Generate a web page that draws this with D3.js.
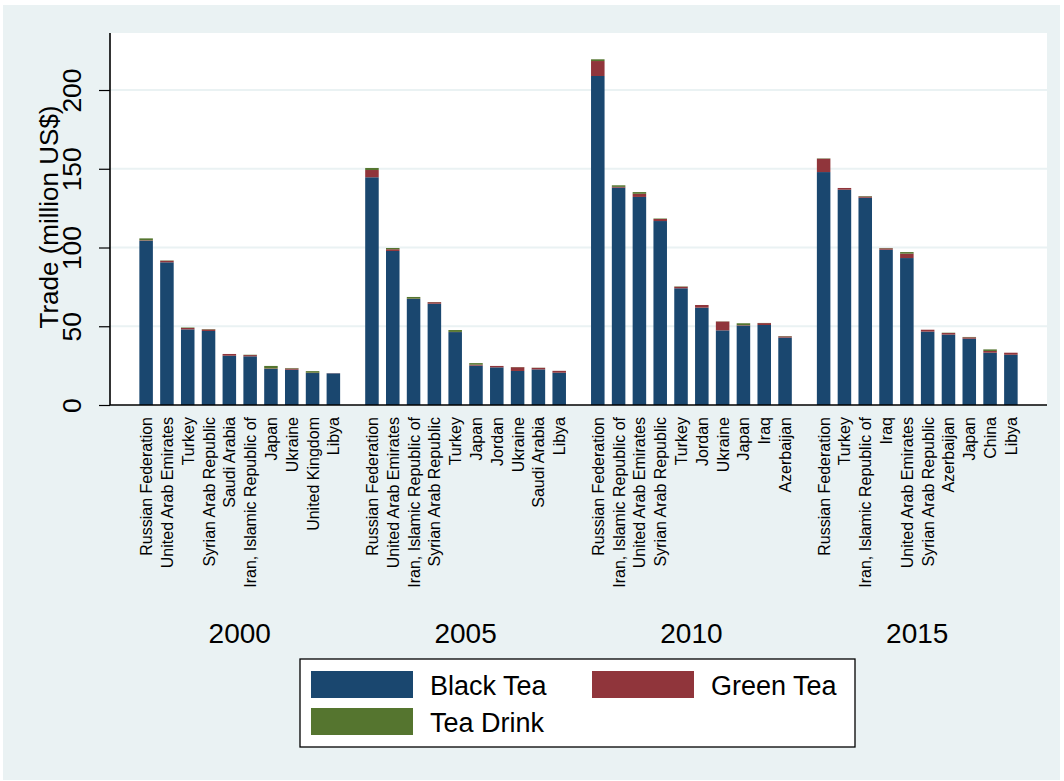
<!DOCTYPE html>
<html>
<head>
<meta charset="utf-8">
<script src="https://cdn.jsdelivr.net/npm/d3@7"></script>
<style>
  html, body { margin: 0; padding: 0; background: #ffffff; }
  svg { display: block; }
  text { font-family: "Liberation Sans", Arial, sans-serif; fill: #000; }
</style>
</head>
<body>
<svg id="chart" width="1064" height="781"></svg>
<script>
// Top tea import markets by year, million US$
const years = ["2000", "2005", "2010", "2015"];

const countries2000 = ["Russian Federation", "United Arab Emirates", "Turkey", "Syrian Arab Republic", "Saudi Arabia", "Iran, Islamic Republic of", "Japan", "Ukraine", "United Kingdom", "Libya"];
const countries2005 = ["Russian Federation", "United Arab Emirates", "Iran, Islamic Republic of", "Syrian Arab Republic", "Turkey", "Japan", "Jordan", "Ukraine", "Saudi Arabia", "Libya"];
const countries2010 = ["Russian Federation", "Iran, Islamic Republic of", "United Arab Emirates", "Syrian Arab Republic", "Turkey", "Jordan", "Ukraine", "Japan", "Iraq", "Azerbaijan"];
const countries2015 = ["Russian Federation", "Turkey", "Iran, Islamic Republic of", "Iraq", "United Arab Emirates", "Syrian Arab Republic", "Azerbaijan", "Japan", "China", "Libya"];

const blackTea2000 = [104.3, 90.6, 48.0, 47.0, 31.3, 30.9, 22.9, 22.4, 20.3, 20.1];
const greenTea2000 = [0.3, 1.0, 0.9, 1.0, 1.1, 0.8, 0.3, 0.8, 0.2, 0.1];
const teaDrink2000 = [1.2, 0.2, 0.3, 0.2, 0.0, 0.2, 1.6, 0.3, 1.0, 0.0];

const blackTea2005 = [144.6, 97.8, 67.3, 64.3, 46.3, 25.0, 23.9, 21.6, 22.6, 20.5];
const greenTea2005 = [4.6, 1.1, 0.2, 1.0, 0.1, 0.6, 0.9, 2.4, 1.0, 1.2];
const teaDrink2005 = [1.3, 0.8, 1.1, 0.1, 1.2, 1.0, 0.0, 0.1, 0.1, 0.0];

const blackTea2010 = [208.9, 138.0, 132.1, 116.8, 74.1, 61.8, 47.4, 50.4, 50.8, 42.8];
const greenTea2010 = [9.5, 0.5, 2.0, 1.3, 1.0, 1.7, 5.6, 0.3, 1.2, 0.8];
const teaDrink2010 = [1.1, 1.0, 1.1, 0.3, 0.2, 0.0, 0.1, 1.2, 0.1, 0.2];

const blackTea2015 = [147.9, 136.7, 131.6, 98.6, 93.3, 46.6, 44.7, 42.1, 33.2, 31.9];
const greenTea2015 = [8.5, 1.1, 0.8, 0.9, 2.8, 1.2, 1.0, 0.9, 1.1, 1.3];
const teaDrink2015 = [0.2, 0.0, 0.3, 0.2, 1.0, 0.0, 0.2, 0.2, 1.0, 0.0];

const seriesNames = ["Black Tea", "Green Tea", "Tea Drink"];
const seriesColors = ["#1a476f", "#90353b", "#55752f"];
const yTicks = [0, 50, 100, 150, 200];

// Assemble one record per bar: year, country and the three stacked parts
const countriesByYear = [countries2000, countries2005, countries2010, countries2015];
const blackByYear = [blackTea2000, blackTea2005, blackTea2010, blackTea2015];
const greenByYear = [greenTea2000, greenTea2005, greenTea2010, greenTea2015];
const drinkByYear = [teaDrink2000, teaDrink2005, teaDrink2010, teaDrink2015];

const rows = [];
years.forEach((yr, i) => {
  countriesByYear[i].forEach((c, j) => {
    rows.push({
      year: yr, slot: j, country: c,
      "Black Tea": blackByYear[i][j],
      "Green Tea": greenByYear[i][j],
      "Tea Drink": drinkByYear[i][j]
    });
  });
});

const svg = d3.select("#chart");

// graph region
svg.append("rect").attr("x", 3).attr("y", 5).attr("width", 1057).attr("height", 775)
  .attr("fill", "#eaf2f3");

const plot = { left: 110, right: 1047, top: 33, bottom: 405 };

// plot region
svg.append("rect")
  .attr("x", plot.left).attr("y", plot.top)
  .attr("width", plot.right - plot.left).attr("height", plot.bottom - plot.top)
  .attr("fill", "#ffffff");

const y = d3.scaleLinear().domain([0, 236.2]).range([plot.bottom, plot.top]);

const xYear = d3.scaleBand().domain(years)
  .range([plot.left, plot.right]).paddingInner(0.111).paddingOuter(0.13);
const xSlot = d3.scaleBand().domain(d3.range(10))
  .range([0, xYear.bandwidth()]).paddingInner(0.35).paddingOuter(0);

// gridlines
svg.append("g").selectAll("line").data(yTicks.filter(t => t > 0)).join("line")
  .attr("x1", plot.left).attr("x2", plot.right)
  .attr("y1", d => y(d)).attr("y2", d => y(d))
  .attr("stroke", "#eaf2f3").attr("stroke-width", 2);

// stacked bars
const stack = d3.stack().keys(seriesNames);
const stacked = stack(rows);
const color = d3.scaleOrdinal().domain(seriesNames).range(seriesColors);

svg.append("g").selectAll("g").data(stacked).join("g")
  .attr("fill", d => color(d.key))
  .selectAll("rect").data(d => d).join("rect")
  .attr("x", d => xYear(d.data.year) + xSlot(d.data.slot))
  .attr("width", xSlot.bandwidth())
  .attr("y", d => y(d[1]))
  .attr("height", d => Math.max(0, y(d[0]) - y(d[1])));

// y axis
const yAxis = d3.axisLeft(y).tickValues(yTicks).tickSize(11).tickPadding(9);
const gy = svg.append("g").attr("transform", `translate(${plot.left},0)`).call(yAxis);
gy.select(".domain").attr("stroke", "#000").attr("stroke-width", 1.6)
  .attr("d", `M0,${plot.top}V${plot.bottom}`);
gy.selectAll(".tick line").attr("stroke", "#000").attr("stroke-width", 1.2);
gy.selectAll(".tick text")
  .attr("font-size", 26.5)
  .attr("font-family", "Liberation Sans, Arial, sans-serif")
  .attr("text-anchor", "middle")
  .attr("transform", "translate(-29,0) rotate(-90)")
  .attr("x", 0).attr("dy", 0).attr("y", 0);

// x axis line
svg.append("line")
  .attr("x1", plot.left).attr("x2", plot.right)
  .attr("y1", plot.bottom).attr("y2", plot.bottom)
  .attr("stroke", "#000").attr("stroke-width", 1.6);

// y title
svg.append("text")
  .attr("transform", `translate(58,${(plot.top + plot.bottom) / 2 - 2}) rotate(-90)`)
  .attr("text-anchor", "middle")
  .attr("font-size", 26)
  .text("Trade (million US$)");

// country labels, rotated
svg.append("g").selectAll("text").data(rows).join("text")
  .attr("transform", d => {
    const cx = xYear(d.year) + xSlot(d.slot) + xSlot.bandwidth() / 2;
    return `translate(${cx + 6},${plot.bottom + 12}) rotate(-90)`;
  })
  .attr("text-anchor", "end")
  .attr("font-size", 16)
  .text(d => d.country);

// year labels
svg.append("g").selectAll("text").data(years).join("text")
  .attr("x", d => xYear(d) + xYear.bandwidth() / 2)
  .attr("y", 643)
  .attr("text-anchor", "middle")
  .attr("font-size", 28)
  .text(d => d);

// legend
const lg = svg.append("g");
lg.append("rect").attr("x", 300).attr("y", 659).attr("width", 555).attr("height", 88)
  .attr("fill", "#fff").attr("stroke", "#000").attr("stroke-width", 1.3);
const legendPos = [
  { x: 311, y: 671 },
  { x: 592, y: 671 },
  { x: 311, y: 708 }
];
seriesNames.forEach((name, i) => {
  const p = legendPos[i];
  lg.append("rect").attr("x", p.x).attr("y", p.y).attr("width", 102).attr("height", 27)
    .attr("fill", seriesColors[i]);
  lg.append("text").attr("x", p.x + 119).attr("y", p.y + 24)
    .attr("font-size", 27).text(name);
});
</script>
</body>
</html>
